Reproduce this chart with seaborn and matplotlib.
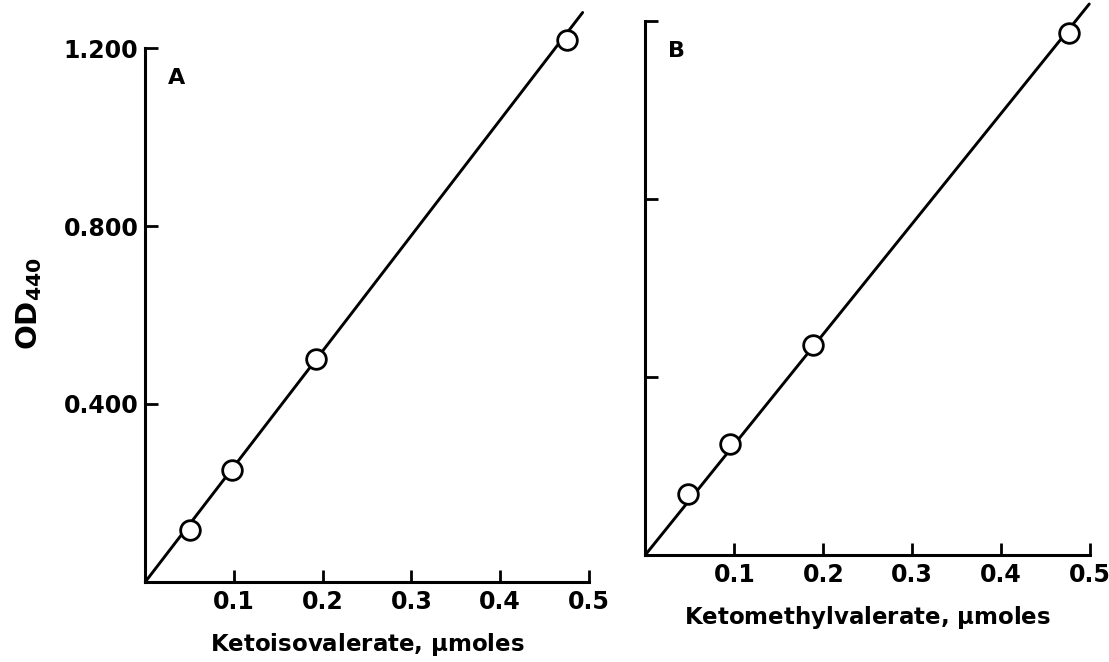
import matplotlib
matplotlib.use('Agg')
import matplotlib.pyplot as plt
import seaborn as sns
import pandas as pd

# Donnees
x_a = [0.05, 0.098, 0.192, 0.475]
y_a = [0.117, 0.252, 0.500, 1.219]
fit_a_x = [0.0, 0.493]
fit_a_y = [0.0, 1.28]

x_b = [0.048, 0.095, 0.188, 0.476]
y_b = [0.137, 0.248, 0.472, 1.173]
fit_b_x = [0.0, 0.499]
fit_b_y = [0.0, 1.238]

x_ticks = [0.1, 0.2, 0.3, 0.4, 0.5]
x_tick_labels = ['0.1', '0.2', '0.3', '0.4', '0.5']
y_ticks = [0.4, 0.8, 1.2]
y_tick_labels = ['0.400', '0.800', '1.200']

sns.set_style('white')
plt.rcParams['font.family'] = ['DejaVu Sans']
plt.rcParams['font.weight'] = 'bold'
plt.rcParams['text.color'] = 'black'
plt.rcParams['axes.labelcolor'] = 'black'
plt.rcParams['xtick.color'] = 'black'
plt.rcParams['ytick.color'] = 'black'
plt.rcParams['xtick.direction'] = 'in'
plt.rcParams['ytick.direction'] = 'in'
plt.rcParams['xtick.bottom'] = True
plt.rcParams['ytick.left'] = True
plt.rcParams['mathtext.default'] = 'bf'

fig = plt.figure(figsize=(11.09, 6.62), dpi=100)
ax_a = fig.add_axes([0.131, 0.121, 0.400, 0.840])
ax_b = fig.add_axes([0.582, 0.162, 0.401, 0.840])


def draw_panel(ax, xs, ys, fx, fy, letter, xlabel, ylabels, label_size):
    sns.lineplot(data=pd.DataFrame({'x': fx, 'y': fy}), x='x', y='y', ax=ax,
                 color='black', linewidth=2.1, estimator=None, sort=False)
    ax.lines[-1].set_clip_on(False)
    sns.scatterplot(data=pd.DataFrame({'x': xs, 'y': ys}), x='x', y='y', ax=ax,
                    s=200, facecolor='white', edgecolor='black', linewidth=2.0,
                    zorder=5, clip_on=False)
    ax.set_xlim(0, 0.5)
    ax.set_ylim(0, 1.25)
    for side in ['top', 'right']:
        ax.spines[side].set_visible(False)
    ax.spines['left'].set_bounds(0, 1.2)
    ax.spines['bottom'].set_bounds(0, 0.5)
    for side in ['left', 'bottom']:
        ax.spines[side].set_linewidth(2.2)
        ax.spines[side].set_color('black')
    ax.set_xticks(x_ticks)
    ax.set_xticklabels(x_tick_labels, fontsize=17, fontweight='bold')
    ax.set_yticks(y_ticks)
    if ylabels:
        ax.set_yticklabels(y_tick_labels, fontsize=17, fontweight='bold')
    else:
        ax.set_yticklabels([])
    ax.tick_params(which='major', bottom=True, left=True, direction='in',
                   length=9, width=2.0, color='black', labelcolor='black')
    ax.tick_params(axis='x', pad=6)
    ax.tick_params(axis='y', pad=5)
    ax.set_xlabel(xlabel, fontsize=label_size, fontweight='bold', labelpad=12)
    ax.text(0.025, 1.12, letter, fontsize=16, fontweight='bold')
    ax.patch.set_alpha(0)


draw_panel(ax_a, x_a, y_a, fit_a_x, fit_a_y, 'A',
           r'Ketoisovalerate, $\mu$moles', True, 16.5)
ax_a.set_ylabel(r'OD$_{440}$', fontsize=21, fontweight='bold', labelpad=14)

draw_panel(ax_b, x_b, y_b, fit_b_x, fit_b_y, 'B',
           r'Ketomethylvalerate, $\mu$moles', False, 16.5)
ax_b.set_ylabel('')

fig.savefig('out.png', dpi=100, facecolor='white')
